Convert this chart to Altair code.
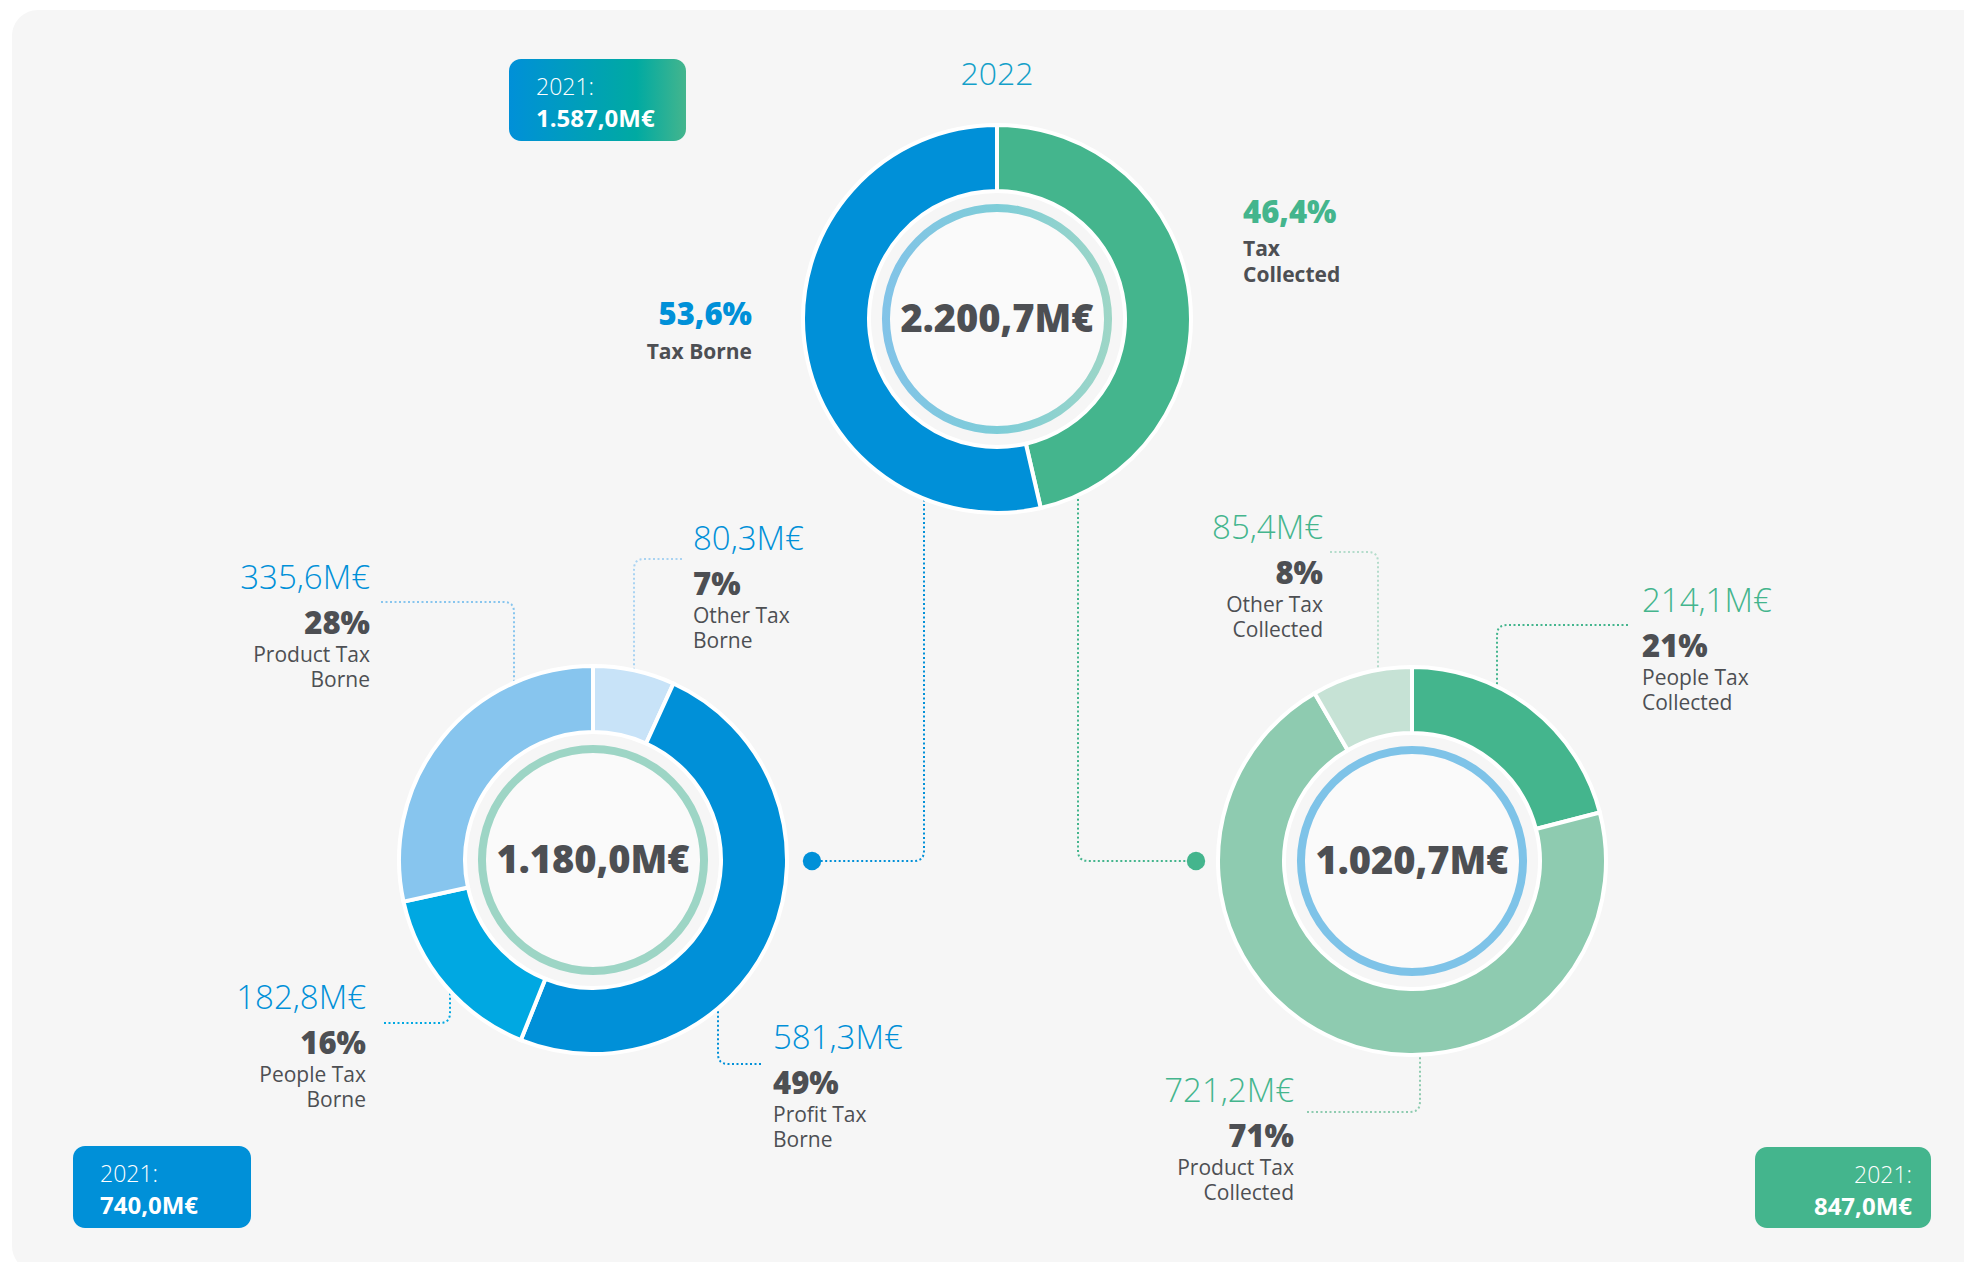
import math
import altair as alt
import pandas as pd

# ------------------------------------------------------------------ data
year_label = "2022"
prev_year_label = "2021:"

top_cats = ["Tax Collected", "Tax Borne"]
top_values = [1020.7, 1180.0]
top_pcts = ["46,4%", "53,6%"]

borne_cats = ["Other Tax Borne", "Profit Tax Borne", "People Tax Borne", "Product Tax Borne"]
borne_values = [80.3, 581.3, 182.8, 335.6]
borne_pcts = ["7%", "49%", "16%", "28%"]

collected_cats = ["People Tax Collected", "Product Tax Collected", "Other Tax Collected"]
collected_values = [214.1, 721.2, 85.4]
collected_pcts = ["21%", "71%", "8%"]

prev_groups = ["total", "borne", "collected"]
prev_values = [1587.0, 740.0, 847.0]

# ------------------------------------------------------------------ styles
FONT = "Open Sans"
BLUE = "#0090d8"
GREEN = "#44b58d"
DARK = "#4d4f53"
BG = "#f6f6f6"
top_colors = [GREEN, BLUE]
borne_colors = ["#c8e3f8", "#0090d8", "#00a8e2", "#87c5ee"]
collected_colors = ["#44b58d", "#8ecbb0", "#c6e2d5"]

W, H = 1956, 1254
xs = alt.Scale(domain=[8, 8 + W], nice=False, zero=False)
ys = alt.Scale(domain=[8, 8 + H], nice=False, zero=False, reverse=True)

R_OUT, R_IN = 194, 128
RING_OUT, RING_IN = 115, 107

# layout (page pixel positions)
centers = {"top": (997, 319), "borne": (593, 860), "collected": (1412, 861)}

label_pos = {  # anchor x, baseline of amount line, align
    "Other Tax Borne": (693, 550, "left"),
    "Profit Tax Borne": (773, 1049, "left"),
    "People Tax Borne": (366, 1009, "right"),
    "Product Tax Borne": (370, 589, "right"),
    "Other Tax Collected": (1323, 539, "right"),
    "People Tax Collected": (1642, 612, "left"),
    "Product Tax Collected": (1294, 1102, "right"),
}

leaders = {
    "Product Tax Borne": [(381, 602), (514, 602), (514, 690)],
    "Other Tax Borne": [(682, 559), (634, 559), (634, 680)],
    "People Tax Borne": [(384, 1023), (450, 1023), (450, 980)],
    "Profit Tax Borne": [(761, 1064), (718, 1064), (718, 1000)],
    "Other Tax Collected": [(1330, 552), (1378, 552), (1378, 680)],
    "People Tax Collected": [(1628, 625), (1497, 625), (1497, 700)],
    "Product Tax Collected": [(1307, 1112), (1420, 1112), (1420, 1045)],
    "Tax Borne": [(924, 495), (924, 861), (812, 861)],
    "Tax Collected": [(1078, 490), (1078, 861), (1196, 861)],
}
leader_colors = {
    "Product Tax Borne": "#87c5ee",
    "Other Tax Borne": "#a9d3f2",
    "People Tax Borne": "#00a8e2",
    "Profit Tax Borne": "#0090d8",
    "Other Tax Collected": "#b4dccb",
    "People Tax Collected": "#44b58d",
    "Product Tax Collected": "#8ecbb0",
    "Tax Borne": BLUE,
    "Tax Collected": GREEN,
}

boxes = {  # x, x2, y, y2, text x, align
    "total": (509, 686, 59, 141, 536, "left"),
    "borne": (73, 251, 1146, 1228, 100, "left"),
    "collected": (1755, 1931, 1147, 1228, 1912, "right"),
}


def eur(v):
    s = f"{v:,.1f}"
    return s.replace(",", "X").replace(".", ",").replace("X", ".") + "M€"


def X(field="x"):
    return alt.X(f"{field}:Q", scale=xs, axis=None)


def Y(field="y"):
    return alt.Y(f"{field}:Q", scale=ys, axis=None)


def XD(v):
    return alt.XDatum(datum=v, type="quantitative", scale=xs, axis=None)


def YD(v):
    return alt.YDatum(datum=v, type="quantitative", scale=ys, axis=None)


def rounded(points, r=10, n=7):
    out = [points[0]]
    for i in range(1, len(points) - 1):
        p0, p1, p2 = points[i - 1], points[i], points[i + 1]
        l1 = math.hypot(p0[0] - p1[0], p0[1] - p1[1])
        l2 = math.hypot(p2[0] - p1[0], p2[1] - p1[1])
        a = (p1[0] + (p0[0] - p1[0]) / l1 * r, p1[1] + (p0[1] - p1[1]) / l1 * r)
        b = (p1[0] + (p2[0] - p1[0]) / l2 * r, p1[1] + (p2[1] - p1[1]) / l2 * r)
        for j in range(n):
            t = j / (n - 1)
            out.append(((1 - t) ** 2 * a[0] + 2 * (1 - t) * t * p1[0] + t * t * b[0],
                        (1 - t) ** 2 * a[1] + 2 * (1 - t) * t * p1[1] + t * t * b[1]))
    out.append(points[-1])
    return out


layers = []

# background card
card = pd.DataFrame({"x": [12], "x2": [2010], "y": [10], "y2": [1272]})
layers.append(alt.Chart(card).mark_rect(fill=BG, cornerRadius=26).encode(
    x=X("x"), x2="x2:Q", y=Y("y"), y2="y2:Q"))

# leader lines
rows = []
for name, pts in leaders.items():
    for k, (px, py) in enumerate(rounded(pts)):
        rows.append({"id": name, "k": k, "x": px, "y": py, "color": leader_colors[name]})
layers.append(alt.Chart(pd.DataFrame(rows)).mark_line(
    strokeDash=[2, 2.5], strokeWidth=2, interpolate="linear").encode(
    x=X(), y=Y(), detail="id:N", order="k:Q", stroke=alt.Stroke("color:N", scale=None)))


def donut(cats, values, colors, key):
    cx, cy = centers[key]
    df = pd.DataFrame({"cat": cats, "value": values, "color": colors, "idx": list(range(len(cats)))})
    return alt.Chart(df).mark_arc(outerRadius=R_OUT, innerRadius=R_IN, stroke="white",
                                  strokeWidth=4).encode(
        theta=alt.Theta("value:Q", stack=True),
        order=alt.Order("idx:Q"),
        fill=alt.Fill("color:N", scale=None),
        x=XD(cx), y=YD(cy))


def disc(key, inner, outer, fill):
    cx, cy = centers[key]
    return alt.Chart(pd.DataFrame({"k": [0]})).mark_arc(
        innerRadius=inner, outerRadius=outer, theta=0, theta2=2 * math.pi, fill=fill).encode(
        x=XD(cx), y=YD(cy))


ring_grad = alt.LinearGradient(gradient="linear", x1=0, x2=1, y1=0, y2=0, stops=[
    alt.GradientStop(color="#82c3e8", offset=0),
    alt.GradientStop(color="#7ecdd8", offset=0.5),
    alt.GradientStop(color="#9ed6c6", offset=1)])

layers.append(donut(top_cats, top_values, top_colors, "top"))
layers.append(donut(borne_cats, borne_values, borne_colors, "borne"))
layers.append(donut(collected_cats, collected_values, collected_colors, "collected"))
layers.append(disc("top", 0, RING_IN, "#fafafa"))
layers.append(disc("borne", 0, RING_IN, "#fafafa"))
layers.append(disc("collected", 0, RING_IN, "#fafafa"))
layers.append(disc("top", RING_IN, RING_OUT, ring_grad))
layers.append(disc("borne", RING_IN, RING_OUT, "#9dd5c5"))
layers.append(disc("collected", RING_IN, RING_OUT, "#7ec3e8"))

# dots at the ends of the top connectors
dots = pd.DataFrame({"x": [812, 1196], "y": [861, 861], "color": [BLUE, GREEN]})
layers.append(alt.Chart(dots).mark_circle(size=340, opacity=1).encode(
    x=X(), y=Y(), color=alt.Color("color:N", scale=None)))

# 2021 boxes
box_grad = alt.LinearGradient(gradient="linear", x1=0, x2=1, y1=0, y2=0, stops=[
    alt.GradientStop(color="#0090d8", offset=0),
    alt.GradientStop(color="#00aaa2", offset=0.72),
    alt.GradientStop(color="#44b58d", offset=1)])
bx = boxes["total"]
layers.append(alt.Chart(pd.DataFrame({"x": [bx[0]], "x2": [bx[1]], "y": [bx[2]], "y2": [bx[3]]}))
              .mark_rect(fill=box_grad, cornerRadius=12).encode(
    x=X("x"), x2="x2:Q", y=Y("y"), y2="y2:Q"))
solid = pd.DataFrame({"x": [boxes[g][0] for g in ["borne", "collected"]],
                      "x2": [boxes[g][1] for g in ["borne", "collected"]],
                      "y": [boxes[g][2] for g in ["borne", "collected"]],
                      "y2": [boxes[g][3] for g in ["borne", "collected"]],
                      "color": [BLUE, GREEN]})
layers.append(alt.Chart(solid).mark_rect(cornerRadius=12).encode(
    x=X("x"), x2="x2:Q", y=Y("y"), y2="y2:Q", fill=alt.Fill("color:N", scale=None)))

# ------------------------------------------------------------------ texts
groups = {}


def add(style, align, x, y, text, color):
    groups.setdefault((style, align), []).append({"x": x, "y": y, "text": text, "color": color})


styles = {
    "amount": (33, 300),
    "pct": (31, 800),
    "name": (21, 400),
    "topname": (21, "bold"),
    "year": (32, 300),
    "total": (38, 800),
    "boxyear": (23, 300),
    "boxval": (24, "bold"),
}

for cats, vals, pcts, col in [(borne_cats, borne_values, borne_pcts, BLUE),
                              (collected_cats, collected_values, collected_pcts, GREEN)]:
    for c, v, p in zip(cats, vals, pcts):
        ax, ay, al = label_pos[c]
        add("amount", al, ax, ay, eur(v), col)
        add("pct", al, ax, ay + 45, p, DARK)
        l1, l2 = c.rsplit(" ", 1)
        add("name", al, ax, ay + 73, l1, DARK)
        add("name", al, ax, ay + 98, l2, DARK)

# top donut labels
add("pct", "left", 1243, 223, top_pcts[0], top_colors[0])
add("topname", "left", 1243, 256, top_cats[0].split(" ")[0], DARK)
add("topname", "left", 1243, 282, top_cats[0].split(" ")[1], DARK)
add("pct", "right", 752, 325, top_pcts[1], top_colors[1])
add("topname", "right", 752, 359, top_cats[1], DARK)

add("year", "center", 997, 85, year_label, "#13a0c9")

totals = {"top": sum(top_values), "borne": sum(borne_values), "collected": sum(collected_values)}
for key, v in totals.items():
    cx, cy = centers[key]
    add("total", "center", cx, cy + 13, eur(v), DARK)

for g, v in zip(prev_groups, prev_values):
    x0, x1, y0, y1, tx, al = boxes[g]
    add("boxyear", al, tx, y0 + 36, prev_year_label, "white")
    add("boxval", al, tx, y0 + 68, eur(v), "white")

for (style, align), rows in groups.items():
    size, weight = styles[style]
    layers.append(alt.Chart(pd.DataFrame(rows)).mark_text(
        align=align, baseline="alphabetic", font=FONT, fontSize=size, fontWeight=weight).encode(
        x=X(), y=Y(), text="text:N", color=alt.Color("color:N", scale=None)))

chart = alt.layer(*layers).resolve_scale(theta="independent").properties(
    width=W, height=H, padding=0, background="white",
    autosize=alt.AutoSizeParams(type="none"),
).configure_view(strokeWidth=0)

chart.save("out.html", embed_options={"renderer": "svg", "actions": False})
